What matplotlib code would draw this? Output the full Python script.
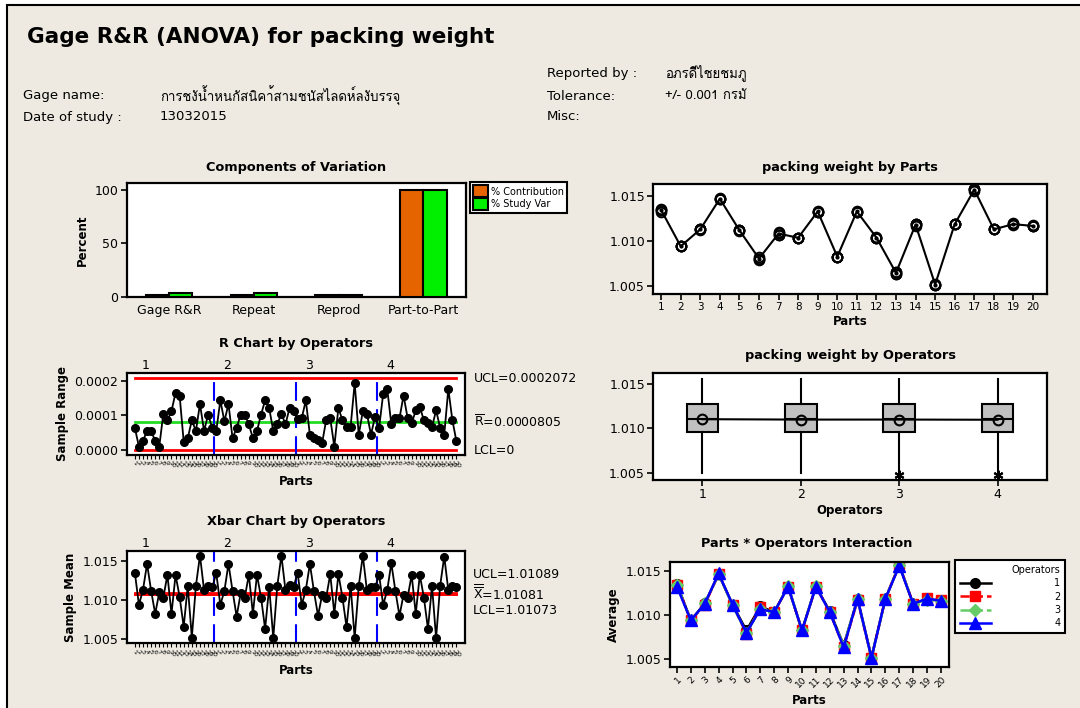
import numpy as np
import matplotlib
matplotlib.use('Agg')
import matplotlib.pyplot as plt
import matplotlib.transforms as mtransforms
from matplotlib import font_manager as fm
from matplotlib.ft2font import FT2Font
from matplotlib.patches import Patch, Rectangle
from matplotlib.ticker import FormatStrFormatter

W, H = 1080, 708
BG = '#EEEAE1'

parts = list(range(1, 21))
operators = [1, 2, 3, 4]

# components of variation (%)
comp_labels = ['Gage R&R', 'Repeat', 'Reprod', 'Part-to-Part']
pct_contribution = [1.5, 1.5, 1.3, 99.9]
pct_study_var = [3.2, 3.1, 1.4, 99.95]

# sample ranges by operator, parts 1..20
range_op1 = [6.4e-5, 1.0e-5, 2.6e-5, 5.6e-5, 5.6e-5, 2.5e-5, 1.0e-5, 10.5e-5, 8.6e-5, 11.2e-5,
             16.5e-5, 15.7e-5, 2.4e-5, 3.4e-5, 8.6e-5, 5.5e-5, 13.3e-5, 5.5e-5, 10.2e-5, 6.4e-5]
range_op2 = [5.5e-5, 14.3e-5, 8.3e-5, 13.3e-5, 3.4e-5, 6.4e-5, 10.2e-5, 10.2e-5, 7.4e-5, 3.4e-5,
             5.5e-5, 10.2e-5, 14.3e-5, 12.1e-5, 5.5e-5, 7.4e-5, 10.5e-5, 7.4e-5, 12.1e-5, 11.2e-5]
range_op3 = [9.0e-5, 9.2e-5, 14.3e-5, 4.4e-5, 3.6e-5, 2.9e-5, 2.0e-5, 8.6e-5, 9.1e-5, 1.0e-5,
             12.1e-5, 8.6e-5, 6.7e-5, 6.7e-5, 19.3e-5, 4.4e-5, 11.2e-5, 10.5e-5, 4.4e-5, 9.6e-5]
range_op4 = [6.4e-5, 16.2e-5, 17.6e-5, 7.4e-5, 9.1e-5, 9.1e-5, 15.7e-5, 9.3e-5, 7.7e-5, 11.4e-5,
             12.4e-5, 8.6e-5, 7.7e-5, 6.7e-5, 11.4e-5, 6.4e-5, 4.4e-5, 17.6e-5, 8.6e-5, 2.5e-5]

# sample means by operator, parts 1..20
xbar_op1 = [1.01353, 1.00940, 1.01132, 1.01464, 1.01119, 1.00826, 1.01098, 1.01034, 1.01323, 1.00826,
            1.01323, 1.01043, 1.00660, 1.01183, 1.00523, 1.01183, 1.01570, 1.01128, 1.01183, 1.01162]
xbar_op2 = [1.01345, 1.00940, 1.01119, 1.01464, 1.01119, 1.00791, 1.01089, 1.01034, 1.01323, 1.00826,
            1.01323, 1.01034, 1.00634, 1.01170, 1.00515, 1.01187, 1.01570, 1.01128, 1.01196, 1.01174]
xbar_op3 = [1.01345, 1.00940, 1.01132, 1.01464, 1.01111, 1.00800, 1.01068, 1.01034, 1.01332, 1.00826,
            1.01332, 1.01034, 1.00655, 1.01183, 1.00515, 1.01183, 1.01570, 1.01128, 1.01174, 1.01162]
xbar_op4 = [1.01323, 1.00940, 1.01128, 1.01472, 1.01119, 1.00800, 1.01068, 1.01034, 1.01323, 1.00826,
            1.01323, 1.01034, 1.00634, 1.01183, 1.00515, 1.01187, 1.01557, 1.01128, 1.01187, 1.01162]

r_ucl, r_bar, r_lcl = 0.0002072, 0.0000805, 0.0
x_ucl, x_bar, x_lcl = 1.01089, 1.01081, 1.01073

# box plot summaries by operator
box_low = [1.00500, 1.00500, 1.00505, 1.00505]
box_q1 = [1.00955, 1.00955, 1.00955, 1.00955]
box_med = [1.01105, 1.01105, 1.01105, 1.01105]
box_q3 = [1.01274, 1.01274, 1.01274, 1.01274]
box_high = [1.01556, 1.01556, 1.01556, 1.01556]
box_outliers = [[], [], [1.00474], [1.00474]]


def thai_family():
    for f in fm.fontManager.ttflist:
        try:
            if 0x0E01 in FT2Font(f.fname).get_charmap():
                return f.name
        except Exception:
            pass
    return 'DejaVu Sans'


plt.rcParams['font.family'] = ['DejaVu Sans']
plt.rcParams['mathtext.fontset'] = 'dejavusans'
THAI = [thai_family(), 'DejaVu Sans']

fig = plt.figure(figsize=(W / 100, H / 100), dpi=100, facecolor='white')
fig.add_artist(Rectangle((7 / W, -0.05), 1.1, 1 - 5 / H + 0.05, transform=fig.transFigure,
                         facecolor=BG, edgecolor='black', lw=1.5, zorder=-10))


def add_ax(l, t, r, b):
    ax = fig.add_axes([l / W, 1 - b / H, (r - l) / W, (b - t) / H])
    ax.set_facecolor('white')
    for s in ax.spines.values():
        s.set_linewidth(1.6)
    ax.tick_params(direction='out', length=4, width=1.2, labelsize=9, pad=2)
    return ax


def ftext(x, y, s, **kw):
    kw.setdefault('va', 'center')
    fig.text(x / W, 1 - y / H, s, **kw)


# header
ftext(27, 37, 'Gage R&R (ANOVA) for packing weight', fontsize=15.5, weight='bold')
ftext(547, 73, 'Reported by :', fontsize=9.5)
ftext(665, 73, 'อภรดิีไชยชมภู', fontsize=9.5, family=THAI)
ftext(23, 96, 'Gage name:', fontsize=9.5)
ftext(160, 96, 'การชงัน้ำหนกัสนิคา้สามชนัสไลดห์ลงับรรจุ', fontsize=9.5, family=THAI)
ftext(547, 96, 'Tolerance:', fontsize=9.5)
ftext(665, 96, '+/- 0.001 กรมั', fontsize=9.5, family=THAI)
ftext(23, 117, 'Date of study :', fontsize=9.5)
ftext(160, 117, '13032015', fontsize=9.5)
ftext(547, 117, 'Misc:', fontsize=9.5)

TS = dict(fontsize=9.3, weight='bold', ha='center')
LS = dict(fontsize=8.5, weight='bold')

# Components of Variation
ax = add_ax(126.7, 183.3, 465.7, 296.7)
x = np.arange(len(comp_labels))
ax.bar(x - 0.1375, pct_contribution, 0.275, color='#E66400', edgecolor='black', lw=1.5, zorder=3)
ax.bar(x + 0.1375, pct_study_var, 0.275, color='#00F000', edgecolor='black', lw=1.5, zorder=3)
ax.set_xlim(-0.5, 3.5)
ax.set_ylim(0, 106)
ax.set_yticks([0, 50, 100])
ax.set_xticks(x)
ax.set_xticklabels(comp_labels)
ax.tick_params(axis='x', length=0, pad=5)
ax.set_ylabel('Percent', **LS)
ftext(296, 168, 'Components of Variation', **TS)
fig.legend(handles=[Patch(facecolor='#E66400', edgecolor='black', lw=1.5, label='% Contribution'),
                    Patch(facecolor='#00F000', edgecolor='black', lw=1.5, label='% Study Var')],
           loc='upper left', bbox_to_anchor=(470 / W, 1 - 182 / H), fontsize=7,
           fancybox=False, edgecolor='black', framealpha=1, borderpad=0.35, handlelength=1.5,
           handleheight=1.5, labelspacing=0.05, handletextpad=0.3, borderaxespad=0
           ).get_frame().set_linewidth(1.5)

idx = np.arange(80)
part_labels = [str(p) for p in parts] * 4


def op_chart(ax, values, lines, colors):
    for v, c in zip(lines, colors):
        ax.plot([idx[0], idx[-1]], [v, v], color=c, lw=2, zorder=2)
    for k in range(1, 4):
        ax.axvline(20 * k - 0.5, color='#0000FF', lw=1.5, ls=(0, (9, 4)), zorder=2.5)
    ax.plot(idx, values, '-o', color='black', ms=5.5, lw=1.3, zorder=3)
    ax.set_xlim(-2, 81.1)
    ax.set_xticks(idx)
    ax.set_xticklabels(part_labels, fontsize=4.5, rotation=-45, ha='left', rotation_mode='anchor')
    ax.tick_params(axis='x', length=3, width=0.8, pad=1)
    tr = mtransforms.blended_transform_factory(ax.transData, ax.transAxes)
    for k, op in enumerate(operators):
        ax.text(20 * k + 2.7, 1.01, str(op), transform=tr, fontsize=9, ha='center', va='bottom')


# R chart
ax = add_ax(126.7, 372.7, 465, 455)
r_all = np.concatenate([range_op1, range_op2, range_op3, range_op4])
op_chart(ax, r_all, [r_ucl, r_bar, r_lcl], ['#FF0000', '#22DD22', '#FF0000'])
ax.set_ylim(-0.0000144, 0.000223)
ax.set_yticks([0, 0.0001, 0.0002])
ax.yaxis.set_major_formatter(FormatStrFormatter('%.4f'))
ax.set_ylabel('Sample Range', **LS)
ax.set_xlabel('Parts', **LS, labelpad=4)
tr = mtransforms.blended_transform_factory(ax.transAxes, ax.transData)
ax.text(1.027, r_ucl, 'UCL=0.0002072', transform=tr, fontsize=9, va='center')
ax.text(1.027, r_bar, r'$\overline{\mathrm{R}}$=0.0000805', transform=tr, fontsize=9, va='center')
ax.text(1.027, r_lcl, 'LCL=0', transform=tr, fontsize=9, va='center')
ftext(296, 343, 'R Chart by Operators', **TS)

# Xbar chart
ax = add_ax(126.7, 551, 465, 643.3)
x_all = np.concatenate([xbar_op1, xbar_op2, xbar_op3, xbar_op4])
op_chart(ax, x_all, [x_ucl, x_bar, x_lcl], ['#FF0000'] * 3)
ax.set_ylim(1.00449, 1.01628)
ax.set_yticks([1.005, 1.010, 1.015])
ax.yaxis.set_major_formatter(FormatStrFormatter('%.3f'))
ax.set_ylabel('Sample Mean', **LS)
ax.set_xlabel('Parts', **LS, labelpad=4)
ftext(473, 575, 'UCL=1.01089', fontsize=9)
ftext(473, 593, r'$\overline{\overline{\mathrm{X}}}$=1.01081', fontsize=9)
ftext(473, 610, 'LCL=1.01073', fontsize=9)
ftext(296, 522, 'Xbar Chart by Operators', **TS)

# packing weight by Parts
ops_means = np.array([xbar_op1, xbar_op2, xbar_op3, xbar_op4])
part_mean = ops_means.mean(axis=0)
ax = add_ax(653.3, 184.3, 1046.7, 294)
ax.plot(parts, part_mean, '-', color='black', lw=1.5, zorder=2)
for row in ops_means:
    ax.plot(parts, row, 'o', mfc='none', mec='black', ms=7, mew=1.4, zorder=3)
ax.plot(parts, part_mean, '.', color='black', ms=4, zorder=4)
ax.set_xlim(0.6, 20.7)
ax.set_ylim(1.00412, 1.01626)
ax.set_xticks(parts)
ax.tick_params(axis='x', labelsize=7.5)
ax.set_yticks([1.005, 1.010, 1.015])
ax.yaxis.set_major_formatter(FormatStrFormatter('%.3f'))
ax.set_xlabel('Parts', **LS, labelpad=2)
ftext(850, 168, 'packing weight by Parts', **TS)

# packing weight by Operators
op_means = ops_means.mean(axis=1)
stats = [dict(whislo=box_low[i], q1=box_q1[i], med=box_med[i], q3=box_q3[i],
              whishi=box_high[i], fliers=box_outliers[i], mean=op_means[i])
         for i in range(len(operators))]
ax = add_ax(653.3, 373.3, 1046.7, 480)
ax.bxp(stats, positions=operators, widths=0.32, patch_artist=True, showmeans=True, showcaps=False,
       boxprops=dict(facecolor='#C0C0C0', edgecolor='black', lw=1.5),
       medianprops=dict(color='black', lw=1.5), whiskerprops=dict(color='black', lw=1.5),
       meanprops=dict(marker='o', mfc='none', mec='black', ms=7, mew=1.5),
       flierprops=dict(marker=(6, 2, 0), mfc='black', mec='black', ms=7, mew=1.5))
ax.plot(operators, op_means, '-', color='black', lw=1.5, zorder=5)
ax.set_xlim(0.5, 4.5)
ax.set_ylim(1.00418, 1.01621)
ax.set_xticks(operators)
ax.set_xticklabels([str(o) for o in operators])
ax.set_yticks([1.005, 1.010, 1.015])
ax.yaxis.set_major_formatter(FormatStrFormatter('%.3f'))
ax.set_xlabel('Operators', **LS, labelpad=2)
ftext(850, 356, 'packing weight by Operators', **TS)

# Parts * Operators Interaction
ax = add_ax(670, 561.7, 949.3, 666.7)
styles = [dict(color='black', ls='-', marker='o', ms=7),
          dict(color='#FF0000', ls='--', marker='s', ms=6.5),
          dict(color='#66CC66', ls='-.', marker='D', ms=6.5),
          dict(color='#0000FF', ls='-', marker='^', ms=9)]
for op, row, st in zip(operators, ops_means, styles):
    ax.plot(parts, row, lw=1.8, label=str(op), **st)
ax.set_xlim(0.5, 20.6)
ax.set_ylim(1.00416, 1.01605)
ax.set_xticks(parts)
ax.set_xticklabels([str(p) for p in parts], rotation=45, fontsize=6.5, ha='right',
                   rotation_mode='anchor')
ax.set_yticks([1.005, 1.010, 1.015])
ax.yaxis.set_major_formatter(FormatStrFormatter('%.3f'))
ax.set_xlabel('Parts', **LS, labelpad=3)
ax.set_ylabel('Average', **LS)
ftext(807, 544, 'Parts * Operators Interaction', **TS)
leg = ax.legend(loc='upper left', bbox_to_anchor=(955 / W, 1 - 560 / H), bbox_transform=fig.transFigure,
                title='Operators', fontsize=7, title_fontsize=7, fancybox=False, edgecolor='black',
                framealpha=1, alignment='right', handlelength=3.2, handletextpad=6.5,
                borderpad=0.5, labelspacing=0.35, borderaxespad=0)
leg.get_frame().set_linewidth(1.5)

fig.savefig('out.png', dpi=100, facecolor=fig.get_facecolor())
